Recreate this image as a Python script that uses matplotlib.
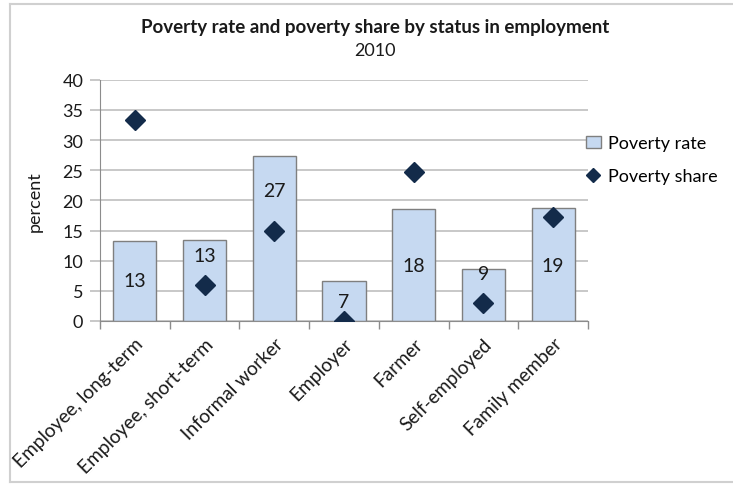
import matplotlib
matplotlib.use("Agg")
import matplotlib.pyplot as plt
from matplotlib.lines import Line2D
from matplotlib.patches import Patch
import numpy as np

categories = ["Employee, long-term", "Employee, short-term", "Informal worker",
              "Employer", "Farmer", "Self-employed", "Family member"]
poverty_rate = [13.3, 13.5, 27.4, 6.6, 18.5, 8.6, 18.7]
poverty_share = [33.4, 6.0, 14.9, 0.0, 24.7, 3.0, 17.2]
rate_labels = ["13", "13", "27", "7", "18", "9", "19"]
label_y = [6.7, 10.8, 21.6, 3.2, 9.2, 7.8, 9.2]  # label placement within bars
yticks = [0, 5, 10, 15, 20, 25, 30, 35, 40]

FONT = "Lato"
plt.rcParams['font.family'] = [FONT, 'DejaVu Sans']

W, H = 733, 485
fig = plt.figure(figsize=(W / 100, H / 100), dpi=100)

# frame lines (chart area border)
border = "#d0d0d0"
fig.add_artist(Line2D([10 / W, 1.0], [1 - 5 / H, 1 - 5 / H], color=border, lw=1.5))
fig.add_artist(Line2D([10 / W, 10 / W], [1 - 5 / H, 1 - 483 / H], color=border, lw=1.5))
fig.add_artist(Line2D([10 / W, 1.0], [1 - 483 / H, 1 - 483 / H], color=border, lw=1.5))

ax = fig.add_axes([100 / W, 1 - 322 / H, 488 / W, (322 - 80.7) / H])
x = np.arange(len(categories))
grid_c = "#bfbfbf"
axis_c = "#8c8c8c"

bars = ax.bar(x, poverty_rate, width=0.62, color="#c6d9f1", edgecolor="#7f7f7f",
              linewidth=1.0, zorder=2, label="Poverty rate")
ax.plot(x, poverty_share, linestyle="none", marker="D", markersize=10.5,
        color="#132b4a", zorder=4, label="Poverty share")

for xi, ly, t in zip(x, label_y, rate_labels):
    ax.text(xi, ly, t, ha="center", va="center", fontsize=14, color="#1a1a1a", zorder=3)

ax.set_xlim(-0.5, len(categories) - 0.5)
ax.set_ylim(0, 40)
ax.set_yticks(yticks)
ax.set_yticklabels([str(v) for v in yticks], fontsize=13, color="#1a1a1a")
ax.yaxis.grid(True, color=grid_c, linewidth=1.2, zorder=0)
ax.set_axisbelow(True)

ax.set_xticks(np.arange(-0.5, len(categories), 1.0), minor=False)
ax.set_xticklabels([])
ax.set_xticks(x, minor=True)
ax.set_xticklabels(categories, minor=True, rotation=45, ha="right",
                   rotation_mode="anchor", fontsize=13.8, color="#1a1a1a")
ax.tick_params(axis="x", which="minor", length=0, pad=10)
ax.tick_params(axis="x", which="major", length=6, color=axis_c, width=1)
ax.tick_params(axis="y", length=7, color=grid_c, width=1.2, pad=5)

for s in ["top", "right"]:
    ax.spines[s].set_visible(False)
ax.spines["left"].set_color(axis_c)
ax.spines["bottom"].set_color(axis_c)

ax.set_ylabel("percent", fontsize=13, color="#1a1a1a", labelpad=14)

handles = [Patch(facecolor="#c6d9f1", edgecolor="#7f7f7f", label="Poverty rate"),
           Line2D([], [], linestyle="none", marker="D", markersize=7.5,
                  color="#132b4a", label="Poverty share")]
fig.legend(handles=handles, loc="upper left", bbox_to_anchor=(579 / W, 1 - 129 / H),
           frameon=False, fontsize=13, handlelength=0.8, handletextpad=0.4,
           labelspacing=0.95, borderaxespad=0)

fig.text(375 / W, 1 - 27 / H,
         "Poverty rate and poverty share by status in employment",
         ha="center", va="center", fontsize=13.5, fontweight="bold", color="#1a1a1a")
fig.text(375 / W, 1 - 51 / H, "2010",
         ha="center", va="center", fontsize=13, color="#1a1a1a")

fig.savefig("out.png", dpi=100)
